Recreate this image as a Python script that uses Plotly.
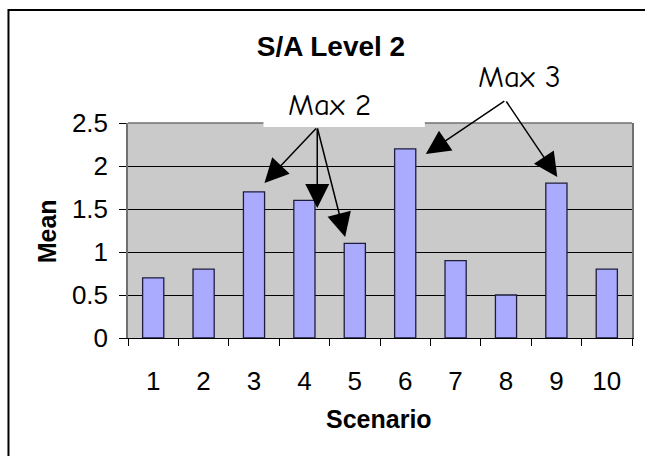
import plotly.graph_objects as go

# Mean value per scenario
scenarios = ["1", "2", "3", "4", "5", "6", "7", "8", "9", "10"]
means = [0.7, 0.8, 1.7, 1.6, 1.1, 2.2, 0.9, 0.5, 1.8, 0.8]
y_ticks = [0, 0.5, 1, 1.5, 2, 2.5]

W, H = 645, 456
L, R, T, B = 128, 11, 123, 118
PW, PH = W - L - R, H - T - B


def px(x):
    """Pixel x -> paper x."""
    return (x - L) / PW


def py(y):
    """Pixel y -> paper y."""
    return (H - B - y) / PH


fig = go.Figure(
    go.Bar(
        x=scenarios,
        y=means,
        marker=dict(color="#AAAAFF", line=dict(color="#1E1E3C", width=1.3)),
    )
)

arial = "Liberation Sans, Arial, sans-serif"
comic = "Comic Sans MS, Comic Neue, DejaVu Sans, sans-serif"

fig.update_layout(
    width=W,
    height=H,
    margin=dict(l=L, r=R, t=T, b=B),
    paper_bgcolor="white",
    plot_bgcolor="#CACACA",
    bargap=0.58,
    showlegend=False,
    font=dict(family=arial, color="black", size=26),
    title=dict(
        text="<b>S/A Level 2</b>",
        x=331 / W, xref="container", xanchor="center",
        y=1 - 46 / H, yref="container", yanchor="middle",
        font=dict(size=28, family=arial, color="black"),
    ),
)

fig.update_xaxes(
    type="category",
    showline=True, linecolor="black", linewidth=1,
    ticks="outside", tickson="boundaries", ticklen=7, tickcolor="black",
    ticklabelstandoff=20,
    showgrid=False,
    tickfont=dict(size=26),
)
fig.update_yaxes(
    range=[0, 2.5],
    tickvals=y_ticks,
    ticktext=[f"{v:g}" for v in y_ticks],
    showline=True, linecolor="#707070", linewidth=1.5, mirror=True,
    ticks="outside", ticklen=7, tickcolor="black",
    ticklabelstandoff=6,
    showgrid=True, gridcolor="black", gridwidth=1,
    zeroline=False,
    tickfont=dict(size=26),
)

shapes = [
    # outer chart frame
    dict(type="rect", xref="paper", yref="paper",
         x0=px(8), x1=px(720), y0=py(520), y1=py(10),
         line=dict(color="black", width=2), fillcolor="rgba(0,0,0,0)", layer="above"),
    # top border of the plot area
    dict(type="line", xref="paper", yref="paper",
         x0=0, x1=1, y0=1, y1=1,
         line=dict(color="#707070", width=1.5), layer="above"),
    # white text box behind "Max 2"
    dict(type="rect", xref="paper", yref="paper",
         x0=px(264), x1=px(426), y0=py(127), y1=py(88),
         line=dict(width=0), fillcolor="white", layer="above"),
]
fig.update_layout(shapes=shapes)

annotations = [
    dict(text="<b>Mean</b>", xref="paper", yref="paper",
         x=px(47), y=py(231), textangle=-90, showarrow=False,
         font=dict(size=25, family=arial), xanchor="center", yanchor="middle"),
    dict(text="<b>Scenario</b>", xref="paper", yref="paper",
         x=px(380), y=py(419), showarrow=False,
         font=dict(size=25, family=arial), xanchor="center", yanchor="middle"),
    dict(text="Max 2", xref="paper", yref="paper",
         x=px(330), y=py(105), showarrow=False,
         font=dict(size=31, family=comic), xanchor="center", yanchor="middle"),
    dict(text="Max 3", xref="paper", yref="paper",
         x=px(521), y=py(77), showarrow=False,
         font=dict(size=31, family=comic), xanchor="center", yanchor="middle"),
]

# callout arrows: (tail pixel, head pixel)
arrows = [
    ((318, 127), (265, 183)),
    ((318, 127), (318, 208)),
    ((318, 127), (346, 237)),
    ((507, 100), (427, 154)),
    ((507, 100), (559, 177)),
]
for (tx, ty), (hx, hy) in arrows:
    annotations.append(dict(
        text="", xref="paper", yref="paper",
        x=px(hx), y=py(hy), ax=tx - hx, ay=ty - hy,
        showarrow=True, arrowhead=2, arrowsize=3.2, arrowwidth=1.5,
        arrowcolor="black", standoff=0,
    ))

fig.update_layout(annotations=annotations)

fig.write_html("out.html")
